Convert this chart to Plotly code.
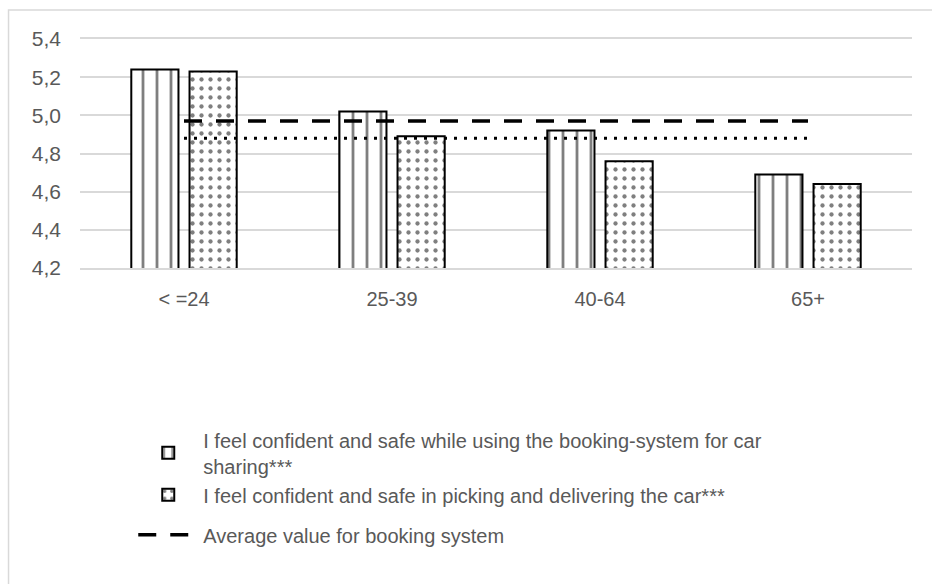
import plotly.graph_objects as go

categories = ["< =24", "25-39", "40-64", "65+"]
booking_values = [5.24, 5.02, 4.92, 4.69]
picking_values = [5.23, 4.89, 4.76, 4.64]
avg_booking = [4.97, 4.97, 4.97, 4.97]
avg_picking = [4.88, 4.88, 4.88, 4.88]

name_booking = "I feel confident and safe while using the booking-system for car<br>sharing***"
name_picking = "I feel confident and safe in picking and delivering the car***"
name_avg_booking = "Average value for booking system"
name_avg_picking = "Average value for picking and delivering"

TEXT = "#595959"
GRID = "#d9d9d9"
FONT = "Liberation Sans, Arial, sans-serif"

fig = go.Figure()
fig.add_trace(go.Bar(
    x=categories, y=booking_values, name=name_booking, legendgroup="a",
    marker=dict(color="white", line=dict(color="black", width=2),
                pattern=dict(shape="|", size=14, solidity=0.2, fgcolor="black", bgcolor="white")),
))
fig.add_trace(go.Bar(
    x=categories, y=picking_values, name=name_picking, legendgroup="a",
    marker=dict(color="white", line=dict(color="black", width=2),
                pattern=dict(shape=".", size=9, solidity=0.18, fgcolor="black", bgcolor="white")),
))
fig.add_trace(go.Scatter(
    x=categories, y=avg_booking, name=name_avg_booking, mode="lines", legendgroup="b",
    line=dict(color="black", width=3.5, dash="18px,14px"),
))
fig.add_trace(go.Scatter(
    x=categories, y=avg_picking, name=name_avg_picking, mode="lines", showlegend=False,
    line=dict(color="black", width=3, dash="3px,7px"),
))

fig.update_layout(
    width=932, height=584,
    margin=dict(l=80, r=20, t=39, b=316),
    paper_bgcolor="white", plot_bgcolor="white",
    separators=",.",
    barmode="group", bargap=0.44, bargroupgap=0.19,
    font=dict(family=FONT, size=20, color=TEXT),
    showlegend=True,
    legend=dict(
        x=0.064, xanchor="left", y=-0.665, yanchor="top",
        traceorder="grouped", tracegroupgap=11,
        itemwidth=60, font=dict(size=20, color=TEXT),
        bgcolor="rgba(0,0,0,0)",
    ),
    xaxis=dict(showgrid=False, showline=True, linecolor=GRID, linewidth=1.5, mirror=True,
               ticks="", tickfont=dict(size=20, color=TEXT),
               range=[-0.5, 3.5], fixedrange=True, ticklabelstandoff=12),
    yaxis=dict(range=[4.2, 5.4], dtick=0.2, tick0=4.2, tickformat=".1f",
               showgrid=True, gridcolor=GRID, gridwidth=1.5, zeroline=False, showline=False,
               ticks="", tickfont=dict(size=21, color=TEXT), ticklabelstandoff=18),
    shapes=[dict(type="rect", xref="paper", yref="paper",
                 x0=-0.0859, x1=1.03, y0=-1.41, y1=1.1266,
                 line=dict(color=GRID, width=1.5), fillcolor="rgba(0,0,0,0)", layer="below")],
)

fig.write_html("out.html")
